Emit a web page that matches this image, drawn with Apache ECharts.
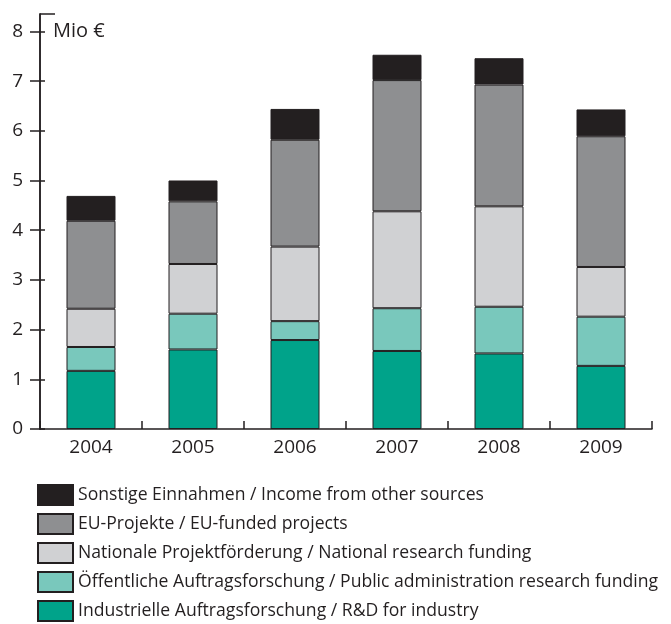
<!DOCTYPE html>
<html>
<head>
<meta charset="utf-8">
<script src="https://cdn.jsdelivr.net/npm/echarts@6/dist/echarts.min.js"></script>
<style>html,body{margin:0;padding:0;background:#fff}#c{width:671px;height:624px}</style>
</head>
<body>
<div id="c"></div>
<script>
var years = ['2004', '2005', '2006', '2007', '2008', '2009'];
var industry = [1.17, 1.60, 1.79, 1.57, 1.52, 1.27];
var publicAdmin = [0.48, 0.72, 0.38, 0.86, 0.94, 0.99];
var national = [0.77, 1.00, 1.50, 1.95, 2.02, 1.00];
var euProjects = [1.77, 1.26, 2.15, 2.64, 2.45, 2.63];
var other = [0.50, 0.42, 0.62, 0.51, 0.53, 0.54];
var yTicks = [0, 1, 2, 3, 4, 5, 6, 7, 8];
var yMax = 8.35;
var unitLabel = 'Mio €';
var names = [
  'Industrielle Auftragsforschung / R&D for industry',
  'Öffentliche Auftragsforschung / Public administration research funding',
  'Nationale Projektförderung / National research funding',
  'EU-Projekte / EU-funded projects',
  'Sonstige Einnahmen / Income from other sources'
];
var values = [industry, publicAdmin, national, euProjects, other];
var colors = ['#00a38a', '#79c8bc', '#d0d1d3', '#8e8f91', '#231f20'];
var ink = '#231f20';
var font = 'Open Sans';

var chart = echarts.init(document.getElementById('c'), null, {renderer: 'canvas'});
var series = names.map(function (n, i) {
  return {
    name: n, type: 'bar', stack: 'total', data: values[i], barWidth: 49,
    itemStyle: {color: colors[i], borderColor: ink, borderWidth: 1},
    emphasis: {disabled: true}
  };
});
function yAxisCfg(inside, showLabel) {
  return {
    type: 'value', min: 0, max: yMax, position: 'left',
    splitLine: {show: false},
    axisLine: {show: true, lineStyle: {color: ink, width: 1.5}},
    axisTick: {show: true, inside: inside, length: inside ? 5 : 10, customValues: yTicks, lineStyle: {color: ink, width: 1.5}},
    axisLabel: {show: showLabel, customValues: yTicks, margin: 17, color: ink, fontSize: 19, fontFamily: font}
  };
}
chart.setOption({
  animation: false,
  grid: {left: 40, right: 19, top: 14, bottom: 195, containLabel: false},
  legend: {
    orient: 'vertical', left: 37, top: 484, height: 140, padding: 0,
    itemWidth: 35, itemHeight: 20, itemGap: 7, icon: 'rect',
    data: names.slice().reverse(),
    textStyle: {color: ink, fontSize: 17.6, fontFamily: font},
    selectedMode: false
  },
  xAxis: {
    type: 'category', data: years,
    axisLine: {lineStyle: {color: ink, width: 1.5}},
    axisTick: {show: true, inside: true, length: 8, lineStyle: {color: ink, width: 1.5}},
    axisLabel: {color: ink, fontSize: 19, fontFamily: font, margin: 9}
  },
  yAxis: [yAxisCfg(false, true), yAxisCfg(true, false)],
  series: series
});
var topY = chart.convertToPixel({yAxisIndex: 0}, yMax);
var y8 = chart.convertToPixel({yAxisIndex: 0}, yTicks[yTicks.length - 1]);
chart.setOption({
  graphic: [
    {type: 'line', shape: {x1: 40, y1: topY, x2: 55, y2: topY}, style: {stroke: ink, lineWidth: 1.5}},
    {type: 'text', x: 53, y: y8, style: {text: unitLabel, fill: ink, fontSize: 20, fontFamily: font, verticalAlign: 'middle', align: 'left'}}
  ]
});
</script>
</body>
</html>
